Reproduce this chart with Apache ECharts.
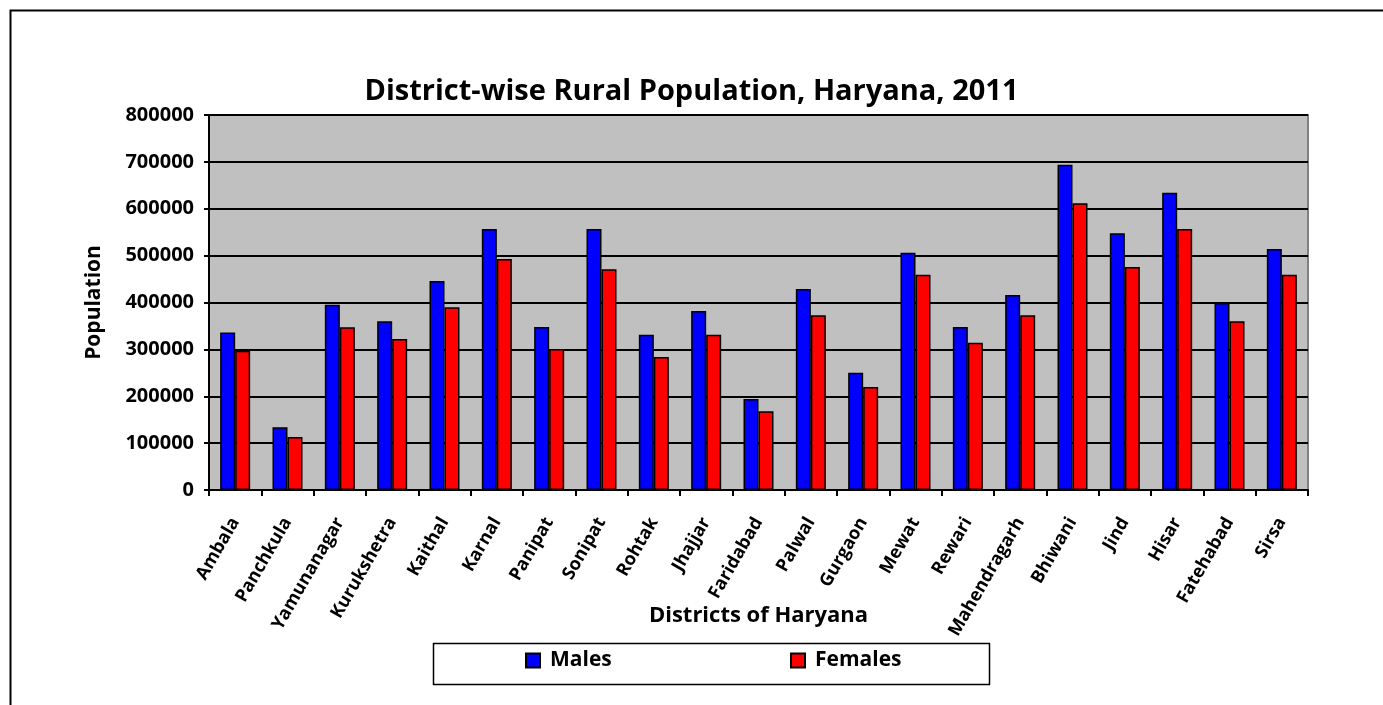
<!DOCTYPE html>
<html>
<head>
<meta charset="utf-8">
<script src="https://cdn.jsdelivr.net/npm/echarts@6/dist/echarts.min.js"></script>
<style>
html,body{margin:0;padding:0;background:#fff;}
#c{width:1383px;height:705px;}
</style>
</head>
<body>
<div id="c"></div>
<script>
const districts = ["Ambala","Panchkula","Yamunanagar","Kurukshetra","Kaithal","Karnal","Panipat","Sonipat","Rohtak","Jhajjar","Faridabad","Palwal","Gurgaon","Mewat","Rewari","Mahendragarh","Bhiwani","Jind","Hisar","Fatehabad","Sirsa"];
const males   = [336000,134000,395000,360000,446000,557000,348000,557000,331000,382000,194000,429000,250000,506000,348000,416000,694000,548000,634000,399000,514000];
const females = [297000,113000,347000,322000,390000,493000,301000,471000,284000,331000,168000,373000,220000,459000,314000,373000,612000,476000,557000,360000,459000];
const yTicks  = [0,100000,200000,300000,400000,500000,600000,700000,800000];

const FONT = '"Open Sans"';
const chart = echarts.init(document.getElementById('c'));
const legendText = { fontFamily: FONT, fontWeight: 'bold', fontSize: 21, color: '#000', padding: [0, 0, 0, 5] };
chart.setOption({
  animation: false,
  backgroundColor: '#ffffff',
  graphic: [{
    type: 'rect', left: 8, top: 8, silent: true,
    shape: { width: 1400, height: 720 },
    style: { fill: 'none', stroke: '#000', lineWidth: 2 }
  }, {
    type: 'rect', left: 431, top: 641, silent: true,
    shape: { width: 556, height: 41 },
    style: { fill: 'none', stroke: '#000', lineWidth: 1.5 }
  }],
  title: {
    text: 'District-wise Rural Population, Haryana, 2011',
    left: 'center', top: 72,
    textStyle: { fontFamily: FONT, fontWeight: 'bold', fontSize: 29, color: '#000' }
  },
  legend: [{
    left: 520, top: 645, padding: 5,
    data: ['Males'],
    itemWidth: 14, itemHeight: 14, icon: 'rect',
    textStyle: legendText
  }, {
    left: 785, top: 645, padding: 5,
    data: ['Females'],
    itemWidth: 14, itemHeight: 14, icon: 'rect',
    textStyle: legendText
  }],
  grid: {
    left: 209, right: 75, top: 115, bottom: 215,
    show: true, backgroundColor: '#c0c0c0', borderColor: '#808080', borderWidth: 2,
    containLabel: false
  },
  xAxis: {
    type: 'category',
    data: districts,
    name: 'Districts of Haryana',
    nameLocation: 'middle', nameGap: 115, nameMoveOverlap: false,
    nameTextStyle: { fontFamily: FONT, fontWeight: 'bold', fontSize: 22, color: '#000' },
    axisLine: { lineStyle: { color: '#000', width: 2 } },
    axisTick: { show: true, alignWithLabel: false, length: 6, lineStyle: { color: '#000', width: 2 } },
    axisLabel: { rotate: 60, interval: 0, margin: 29, fontFamily: FONT, fontWeight: 'bold', fontSize: 18, color: '#000' }
  },
  yAxis: {
    type: 'value',
    min: 0, max: 800000, interval: 100000,
    name: 'Population',
    nameLocation: 'middle', nameGap: 104,
    nameTextStyle: { fontFamily: FONT, fontWeight: 'bold', fontSize: 21, color: '#000' },
    axisLine: { show: true, lineStyle: { color: '#000', width: 2 } },
    axisTick: { show: true, length: 5, lineStyle: { color: '#000', width: 2 } },
    axisLabel: { margin: 15, fontFamily: FONT, fontWeight: 'bold', fontSize: 20, color: '#000',
      formatter: v => yTicks.includes(v) ? String(v) : '' },
    splitLine: { show: true, lineStyle: { color: '#000', width: 2 } }
  },
  series: [
    { name: 'Males', type: 'bar', data: males, barWidth: 15, barGap: '0%',
      itemStyle: { color: '#0000ff', borderColor: '#000', borderWidth: 1.5 } },
    { name: 'Females', type: 'bar', data: females, barWidth: 15,
      itemStyle: { color: '#ff0000', borderColor: '#000', borderWidth: 1.5 } }
  ]
});
</script>
</body>
</html>
